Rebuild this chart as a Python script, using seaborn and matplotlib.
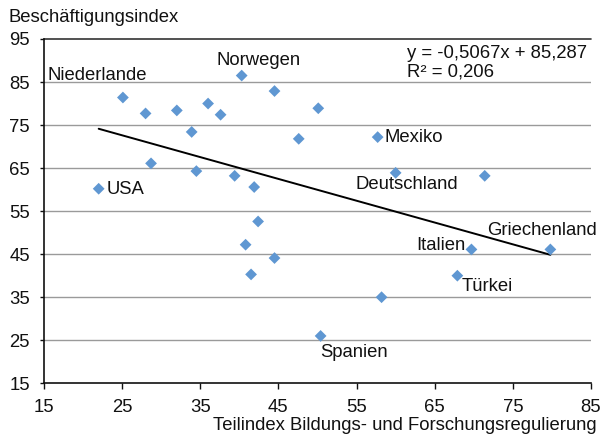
import matplotlib
matplotlib.use("Agg")
import matplotlib.pyplot as plt
import seaborn as sns
import pandas as pd
import numpy as np

# ---- data ----
x_vals = [25.1, 28.0, 32.0, 36.0, 37.6, 33.9, 28.7, 34.5, 39.4, 41.9, 22.0,
          40.3, 44.5, 47.6, 50.1, 57.7, 60.0, 71.4, 42.4, 40.8, 44.5, 41.5,
          69.7, 79.8, 67.9, 58.2, 50.4]
y_vals = [81.4, 77.7, 78.4, 80.0, 77.4, 73.4, 66.1, 64.3, 63.2, 60.6, 60.2,
          86.5, 82.9, 71.8, 78.9, 72.2, 63.9, 63.2, 52.6, 47.2, 44.1, 40.3,
          46.1, 46.1, 40.0, 35.0, 26.0]
slope = -0.5067
intercept = 85.287
r_squared = 0.206
label_names = ["Niederlande", "Norwegen", "USA", "Mexiko", "Deutschland",
               "Italien", "Griechenland", "Türkei", "Spanien"]
label_pos = [(15.5, 86.6), (37.1, 89.9), (23.0, 60.1), (58.6, 72.2),
             (54.9, 61.1), (62.6, 46.9), (71.7, 50.6), (68.5, 37.4),
             (50.4, 22.1)]
x_ticks = [15, 25, 35, 45, 55, 65, 75, 85]
y_ticks = [15, 25, 35, 45, 55, 65, 75, 85, 95]
x_title = "Teilindex Bildungs- und Forschungsregulierung"
y_title = "Beschäftigungsindex"

sns.set_theme(style="white")
plt.rcParams['font.family'] = ['Liberation Sans', 'DejaVu Sans']

df = pd.DataFrame({"x": x_vals, "y": y_vals})

fig = plt.figure(figsize=(6.0, 4.36), dpi=100)
ax = fig.add_axes([0.0733, 0.1209, 0.9117, 0.7897])

ax.set_xlim(15, 85)
ax.set_ylim(15, 95)
for yt in y_ticks[1:-1]:
    ax.axhline(yt, color="#9a9a9a", lw=1.0, zorder=0)
ax.axhline(95, color="#333333", lw=1.2, zorder=0, clip_on=False)

sns.scatterplot(data=df, x="x", y="y", marker="D", s=36, color="#5f97d2",
                edgecolor="none", ax=ax, zorder=3)

xs = np.array([min(x_vals), max(x_vals)])
ax.plot(xs, slope * xs + intercept, color="black", lw=1.4, zorder=2)

fs = 13.3
tc = "#111111"
for name, (px, py) in zip(label_names, label_pos):
    ax.text(px, py, name, fontsize=fs, ha="left", va="center",
            color=tc, zorder=4, clip_on=False)

eq = "y = " + f"{slope:.4f}".replace(".", ",") + "x + " + f"{intercept:.3f}".replace(".", ",")
ax.text(61.5, 91.6, eq, fontsize=fs, ha="left", va="center", color=tc)
ax.text(61.5, 87.4, "R² = " + f"{r_squared:.3f}".replace(".", ","),
        fontsize=fs, ha="left", va="center", color=tc)

ax.set_xticks(x_ticks)
ax.set_yticks(y_ticks)
ax.set_xticklabels([str(t) for t in x_ticks], fontsize=fs, color=tc)
ax.set_yticklabels([str(t) for t in y_ticks], fontsize=fs, color=tc)
ax.tick_params(axis="x", direction="out", length=4, width=1, pad=7, colors=tc, bottom=True)
ax.tick_params(axis="y", direction="out", length=3, width=1, pad=7, colors=tc, left=True)
ax.set_xlabel("")
ax.set_ylabel("")

for side in ["top", "right"]:
    ax.spines[side].set_visible(False)
for side in ["left", "bottom"]:
    ax.spines[side].set_color(tc)
    ax.spines[side].set_linewidth(1.2)

fig.text(8 / 600, 1 - 17 / 436, y_title, fontsize=fs, ha="left", va="center", color=tc)
fig.text(597 / 600, 1 - 425 / 436, x_title, fontsize=fs, ha="right", va="center", color=tc)

fig.savefig("out.png", dpi=100)
